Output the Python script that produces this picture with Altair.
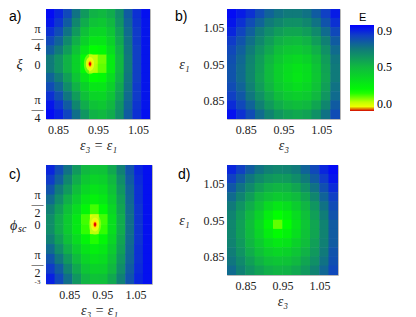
import altair as alt
import pandas as pd

# ---------------- data ----------------
# colour scale of E
E_STOPS = [0.0, 0.012, 0.03, 0.10, 0.22, 0.50, 0.70, 0.85, 0.97]
E_COLORS = ["#d40000", "#ff5000", "#ffff00", "#c0ff00", "#00ff00",
            "#10b840", "#107a7a", "#1040c4", "#0000ff"]
E_TICKS = [0.0, 0.5, 0.9]

# panel a : x = eps3 = eps1, y = xi
A_X = [0.8308, 0.8525, 0.8742, 0.8958, 0.9175, 0.9392, 0.9608, 0.9825, 1.0042, 1.0258, 1.0475, 1.0692]
A_Y = [1.1, 0.9, 0.7, 0.5, 0.3, 0.1, -0.1, -0.3, -0.5, -0.7, -0.9, -1.1]
A_E = [
    [0.95, 0.90, 0.83, 0.72, 0.60, 0.52, 0.50, 0.54, 0.64, 0.78, 0.88, 0.94],
    [0.93, 0.87, 0.78, 0.66, 0.54, 0.46, 0.44, 0.50, 0.62, 0.76, 0.87, 0.93],
    [0.88, 0.82, 0.72, 0.60, 0.47, 0.39, 0.38, 0.45, 0.58, 0.74, 0.86, 0.93],
    [0.83, 0.76, 0.65, 0.53, 0.40, 0.32, 0.32, 0.40, 0.55, 0.72, 0.86, 0.93],
    [0.77, 0.70, 0.59, 0.46, 0.32, 0.22, 0.24, 0.35, 0.52, 0.71, 0.85, 0.93],
    [0.70, 0.62, 0.52, 0.40, 0.24, 0.10, 0.15, 0.30, 0.50, 0.70, 0.85, 0.93],
    [0.70, 0.62, 0.52, 0.40, 0.24, 0.11, 0.16, 0.30, 0.50, 0.70, 0.85, 0.93],
    [0.76, 0.69, 0.58, 0.45, 0.32, 0.22, 0.24, 0.35, 0.52, 0.71, 0.85, 0.93],
    [0.82, 0.75, 0.64, 0.52, 0.40, 0.32, 0.32, 0.40, 0.55, 0.72, 0.86, 0.93],
    [0.88, 0.81, 0.71, 0.59, 0.47, 0.39, 0.38, 0.45, 0.58, 0.74, 0.86, 0.93],
    [0.93, 0.87, 0.78, 0.66, 0.54, 0.46, 0.44, 0.50, 0.62, 0.76, 0.87, 0.93],
    [0.95, 0.91, 0.84, 0.73, 0.61, 0.52, 0.50, 0.54, 0.64, 0.78, 0.88, 0.94],
]
A_MIN_X = [0.93]
A_MIN_Y = [0.0]

# panel b : x = eps3, y = eps1
B_X = [0.8125, 0.8375, 0.8625, 0.8875, 0.9125, 0.9375, 0.9625, 0.9875, 1.0125, 1.0375, 1.0625, 1.0875]
B_Y = [1.0875, 1.0625, 1.0375, 1.0125, 0.9875, 0.9625, 0.9375, 0.9125, 0.8875, 0.8625, 0.8375, 0.8125]
B_E = [
    [0.95, 0.92, 0.88, 0.82, 0.76, 0.72, 0.70, 0.70, 0.72, 0.78, 0.85, 0.92],
    [0.93, 0.88, 0.82, 0.76, 0.70, 0.66, 0.63, 0.63, 0.66, 0.72, 0.80, 0.88],
    [0.90, 0.84, 0.77, 0.70, 0.64, 0.59, 0.56, 0.56, 0.59, 0.65, 0.74, 0.83],
    [0.86, 0.80, 0.73, 0.66, 0.59, 0.53, 0.50, 0.49, 0.52, 0.59, 0.68, 0.78],
    [0.83, 0.77, 0.70, 0.62, 0.55, 0.48, 0.44, 0.43, 0.46, 0.53, 0.63, 0.74],
    [0.81, 0.75, 0.67, 0.59, 0.51, 0.44, 0.39, 0.37, 0.40, 0.48, 0.59, 0.71],
    [0.80, 0.74, 0.66, 0.58, 0.49, 0.41, 0.36, 0.33, 0.36, 0.45, 0.57, 0.70],
    [0.80, 0.74, 0.66, 0.57, 0.49, 0.41, 0.35, 0.32, 0.35, 0.44, 0.56, 0.70],
    [0.82, 0.76, 0.68, 0.59, 0.51, 0.43, 0.38, 0.35, 0.38, 0.46, 0.58, 0.72],
    [0.85, 0.79, 0.71, 0.63, 0.55, 0.48, 0.43, 0.41, 0.43, 0.50, 0.61, 0.74],
    [0.89, 0.83, 0.76, 0.68, 0.60, 0.54, 0.50, 0.48, 0.50, 0.56, 0.66, 0.78],
    [0.94, 0.88, 0.82, 0.74, 0.67, 0.61, 0.57, 0.55, 0.57, 0.63, 0.72, 0.82],
]

# panel c : x = eps3 = eps1, y = phi_sc
C_X = [0.7933, 0.82, 0.8467, 0.8733, 0.90, 0.9267, 0.9533, 0.98, 1.0067, 1.0333, 1.06, 1.0867]
C_Y = [2.8798, 2.3562, 1.8326, 1.3090, 0.7854, 0.2618, -0.2618, -0.7854, -1.3090, -1.8326, -2.3562, -2.8798]
C_E = [
    [0.90, 0.82, 0.72, 0.60, 0.50, 0.45, 0.46, 0.55, 0.68, 0.80, 0.90, 0.94],
    [0.86, 0.77, 0.66, 0.54, 0.44, 0.39, 0.41, 0.50, 0.64, 0.78, 0.89, 0.94],
    [0.80, 0.70, 0.60, 0.48, 0.38, 0.33, 0.36, 0.46, 0.61, 0.76, 0.88, 0.94],
    [0.74, 0.64, 0.53, 0.42, 0.32, 0.27, 0.31, 0.42, 0.58, 0.75, 0.88, 0.94],
    [0.68, 0.58, 0.47, 0.36, 0.25, 0.18, 0.24, 0.38, 0.56, 0.74, 0.87, 0.94],
    [0.64, 0.54, 0.43, 0.31, 0.18, 0.06, 0.18, 0.35, 0.54, 0.73, 0.87, 0.94],
    [0.64, 0.54, 0.43, 0.31, 0.19, 0.10, 0.19, 0.35, 0.54, 0.73, 0.87, 0.94],
    [0.68, 0.58, 0.47, 0.36, 0.26, 0.20, 0.25, 0.38, 0.56, 0.74, 0.87, 0.94],
    [0.74, 0.64, 0.53, 0.42, 0.33, 0.28, 0.31, 0.42, 0.58, 0.75, 0.88, 0.94],
    [0.80, 0.71, 0.60, 0.49, 0.39, 0.34, 0.36, 0.46, 0.61, 0.76, 0.88, 0.94],
    [0.86, 0.78, 0.67, 0.55, 0.45, 0.40, 0.41, 0.50, 0.64, 0.78, 0.89, 0.94],
    [0.91, 0.83, 0.73, 0.61, 0.51, 0.46, 0.47, 0.55, 0.68, 0.80, 0.90, 0.94],
]
C_MIN_X = [0.928]
C_MIN_Y = [0.0]

# panel d : x = eps3, y = eps1
D_X = B_X
D_Y = B_Y
D_E = [
    [0.90, 0.85, 0.78, 0.72, 0.68, 0.66, 0.67, 0.70, 0.76, 0.83, 0.90, 0.95],
    [0.85, 0.78, 0.71, 0.65, 0.61, 0.59, 0.60, 0.64, 0.70, 0.78, 0.86, 0.93],
    [0.79, 0.72, 0.65, 0.58, 0.53, 0.51, 0.52, 0.56, 0.63, 0.72, 0.81, 0.89],
    [0.74, 0.67, 0.59, 0.51, 0.46, 0.43, 0.45, 0.49, 0.56, 0.66, 0.76, 0.85],
    [0.70, 0.62, 0.54, 0.46, 0.37, 0.32, 0.35, 0.42, 0.51, 0.61, 0.72, 0.82],
    [0.67, 0.59, 0.50, 0.40, 0.29, 0.22, 0.27, 0.36, 0.47, 0.58, 0.69, 0.80],
    [0.66, 0.58, 0.48, 0.37, 0.25, 0.16, 0.22, 0.33, 0.45, 0.56, 0.67, 0.78],
    [0.66, 0.58, 0.49, 0.39, 0.29, 0.23, 0.27, 0.35, 0.46, 0.56, 0.67, 0.78],
    [0.67, 0.60, 0.51, 0.43, 0.35, 0.31, 0.33, 0.40, 0.48, 0.58, 0.68, 0.78],
    [0.69, 0.62, 0.54, 0.47, 0.41, 0.38, 0.40, 0.45, 0.52, 0.60, 0.70, 0.80],
    [0.71, 0.65, 0.58, 0.52, 0.47, 0.45, 0.46, 0.50, 0.56, 0.63, 0.72, 0.81],
    [0.74, 0.68, 0.62, 0.57, 0.53, 0.51, 0.52, 0.55, 0.60, 0.67, 0.75, 0.83],
]

EPS_TICKS = [0.85, 0.95, 1.05]
XI_TICKS = [-0.7854, 0.0, 0.7854]
PHI_TICKS = [-3.0, -1.5708, 0.0, 1.5708]

# ---------------- helpers ----------------
SERIF = "Liberation Serif"
SANS = "Liberation Sans"
ELLIPSE = "M -0.6 0 A 0.6 1 0 1 0 0.6 0 A 0.6 1 0 1 0 -0.6 0 Z"
OVERLAP = 1.06  # cells drawn slightly larger so no seams show

cscale = alt.Scale(domain=E_STOPS, range=E_COLORS, interpolate="rgb")
LEG = alt.Legend(orient="none", legendX=304, legendY=16, title=None,
                 values=E_TICKS, format=".1f", direction="vertical", type="gradient",
                 gradientLength=86, gradientThickness=24, gradientStrokeWidth=0,
                 labelFont=SERIF, labelFontSize=12, labelOffset=3,
                 labelOverlap=False, padding=0)


def grid_df(xs, ys, rows):
    dx = abs(xs[1] - xs[0]) * OVERLAP
    dy = abs(ys[1] - ys[0]) * OVERLAP
    recs = []
    for j, yv in enumerate(ys):
        for i, xv in enumerate(xs):
            recs.append(dict(x0=xv - dx / 2, x1=xv + dx / 2,
                             y0=yv - dy / 2, y1=yv + dy / 2, E=rows[j][i]))
    return pd.DataFrame(recs)


def tag(text, x, y, size=14, font=SANS, style="normal", baseline="top", align="left"):
    return alt.Chart(pd.DataFrame({"t": [text]})).mark_text(
        align=align, baseline=baseline, font=font, fontSize=size,
        fontStyle=style, color="black").encode(
        text="t:N", x=alt.value(x), y=alt.value(y))


def panel(xs, ys, rows, xdom, ydom, xaxis, yaxis, w, h, extras=()):
    xsc = alt.Scale(domain=xdom, nice=False, zero=False)
    ysc = alt.Scale(domain=ydom, nice=False, zero=False)
    heat = alt.Chart(grid_df(xs, ys, rows)).mark_rect(clip=True).encode(
        x=alt.X("x0:Q", scale=xsc, axis=xaxis),
        x2="x1:Q",
        y=alt.Y("y0:Q", scale=ysc, axis=yaxis),
        y2="y1:Q",
        color=alt.Color("E:Q", scale=cscale, legend=LEG),
    )
    layers = [heat]
    for ex in extras:
        if isinstance(ex, tuple):
            mx, my = ex
            mdf = pd.DataFrame({"x0": mx, "y0": my})
            for size, col, op in [(420, "#b8ff10", 0.55), (190, "#ecff10", 0.85),
                                  (70, "#ffee00", 1.0), (28, "#ff7000", 1.0),
                                  (12, "#e00000", 1.0)]:
                layers.append(alt.Chart(mdf).mark_point(
                    shape=ELLIPSE, filled=True, size=size, color=col,
                    opacity=op, strokeWidth=0).encode(
                    x=alt.X("x0:Q", scale=xsc, axis=xaxis),
                    y=alt.Y("y0:Q", scale=ysc, axis=yaxis)))
        else:
            layers.append(ex)
    return alt.layer(*layers).properties(width=w, height=h)


def xaxis(title):
    return alt.Axis(values=EPS_TICKS, format=".2f", title=title, labelPadding=5,
                    titlePadding=3, labelOverlap=False)


def eps_yaxis():
    return alt.Axis(values=EPS_TICKS, format=".2f", title="ε₁", titleAngle=0,
                    titleX=-43, titleY=55, titleAlign="center",
                    titleBaseline="middle", labelPadding=3, labelOverlap=False)


xi_axis = alt.Axis(values=XI_TICKS, title="ξ", titleAngle=0, titleX=-27, titleY=55,
                   titleAlign="center", titleBaseline="middle",
                   labelExpr="datum.value == 0 ? '0' : ['π','—','4']",
                   labelAlign="center", labelBaseline="middle", labelPadding=9,
                   labelLineHeight=9, labelOverlap=False)

phi_axis = alt.Axis(values=PHI_TICKS, title="ϕ", titleAngle=0, titleX=-33, titleY=60,
                    titleAlign="center", titleBaseline="middle",
                    labelExpr="datum.value < -2 ? '-3' : (datum.value == 0 ? '0' : ['π','—','2'])",
                    labelFontSize={"condition": {"test": "datum.value < -2", "value": 7},
                                   "value": 12},
                    labelAlign="center", labelBaseline="middle", labelPadding=9,
                    labelLineHeight=9, labelOverlap=False)

A = panel(A_X, A_Y, A_E, [0.82, 1.08], [-1.2, 1.2], xaxis("ε₃ = ε₁"), xi_axis, 104, 110,
          extras=[(A_MIN_X, A_MIN_Y), tag("a)", -37, 1)])
B = panel(B_X, B_Y, B_E, [0.80, 1.10], [0.80, 1.10], xaxis("ε₃"), eps_yaxis(), 113, 110,
          extras=[tag("b)", -52, 1),
                  tag("E", 132, 3, size=11)])
C = panel(C_X, C_Y, C_E, [0.78, 1.10], [-3.1416, 3.1416], xaxis("ε₃ = ε₁"), phi_axis, 106, 119,
          extras=[(C_MIN_X, C_MIN_Y), tag("c)", -37, 3),
                  tag("sc", -28, 64, size=10, font=SERIF, style="italic", baseline="middle")])
D = panel(D_X, D_Y, D_E, [0.80, 1.10], [0.80, 1.10], xaxis("ε₃"), eps_yaxis(), 111, 110,
          extras=[tag("d)", -49, 3)])

chart = alt.concat(A, B, C, D, columns=2, spacing=alt.RowColnumber(row=46, column=75),
                   bounds="flush").resolve_scale(color="shared").resolve_legend(
    color="shared").properties(
    padding=0
).configure_view(stroke="#b8b8b8", strokeWidth=1).configure_axis(
    domain=False, ticks=False, tickSize=0, grid=False,
    labelFont=SERIF, labelFontSize=12, labelColor="#222222",
    titleFont=SERIF, titleFontSize=14, titleFontWeight="normal",
    titleFontStyle="italic", titleColor="#222222")

chart.save("out.html", embed_options={"renderer": "svg", "actions": False})
